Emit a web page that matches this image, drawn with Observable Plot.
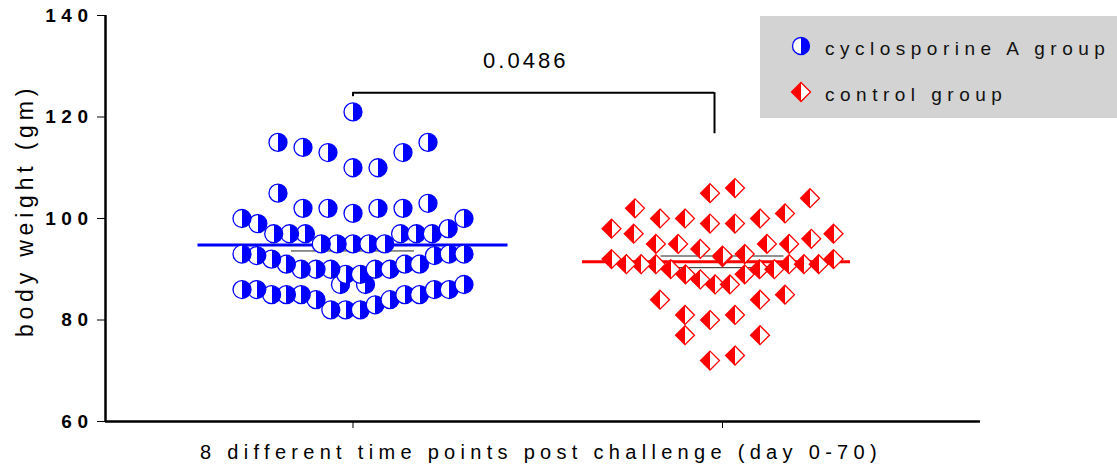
<!DOCTYPE html>
<html><head><meta charset="utf-8">
<script src="https://cdn.jsdelivr.net/npm/d3@7"></script>
<script src="https://cdn.jsdelivr.net/npm/@observablehq/plot@0.6"></script>
<style>
html,body{margin:0;padding:0;background:#fff;}
#wrap{position:relative;width:1117px;height:474px;overflow:hidden;font-family:"Liberation Sans",Arial,sans-serif;}
#chart svg{display:block;}
#legend{position:absolute;left:760px;top:16px;}
</style></head>
<body>
<svg width="0" height="0" style="position:absolute">
 <defs>
  <linearGradient id="halfBlue" x1="0" x2="1" y1="0" y2="0">
   <stop offset="0.5" stop-color="#ffffff"/><stop offset="0.5" stop-color="#0000ff"/>
  </linearGradient>
  <linearGradient id="halfRed" x1="0" x2="1" y1="0" y2="0">
   <stop offset="0.5" stop-color="#ff0000"/><stop offset="0.5" stop-color="#ffffff"/>
  </linearGradient>
 </defs>
</svg>
<div id="wrap"><div id="chart"></div></div>
<script>
// ---------- data ----------
const groups = ["cyclosporine A group", "control group"];
const groupColors = ["#0000ff", "#ff0000"];
const cyclosporineA = [
  121,
  115, 114, 113, 110, 110, 113, 115,
  103, 102, 102, 101, 102, 102, 105,
  100, 99, 97, 97, 97, 97, 97, 97, 98, 100,
  95, 95, 95, 95, 95,
  93, 93, 92.7, 92.7, 92, 93,
  91, 91, 90, 90, 89, 89, 90, 90, 90, 91,
  87, 87,
  86, 86, 85, 85, 85, 84, 82, 82, 82, 83, 84, 85, 85, 86, 86, 87
];
const control = [
  106, 105, 104, 102, 101, 100, 100, 99, 99, 100, 98, 97, 97, 95, 95, 94, 95, 95, 96,
  92, 91, 91, 91, 90, 89, 88, 87, 87, 89, 90, 90, 91, 91, 91, 92,
  92.4, 92.7, 93,
  85, 84, 84, 81, 80, 81, 77, 77, 72, 73
];
const yTicks = [60, 80, 100, 120, 140];
const xLabel = "8 different time points post challenge (day 0-70)";
const yLabel = "body weight (gm)";
const pValue = "0.0486";

// ---------- layout constants ----------
const W = 1117, H = 474;
const mL = 105, mR = 137, mT = 15, mB = 53;
const X0 = 0.3302, X1 = 2.6982;                 // x domain (group index units)
const UNIT = (W - mL - mR) / (X1 - X0);         // px per group unit
const SPAN = 5.5, MAXROW = 16, MAXW = 222, MAXSTEP = 25;

// Prism-like scatter layout: rows of similar values spread centre-out
function swarm(values, gi) {
  const pts = values.map(v => ({group: groups[gi], gi, value: v}));
  const sorted = pts.slice().sort((a, b) => a.value - b.value);
  const rows = []; let cur = null;
  for (const p of sorted) {
    if (!cur || p.value - cur[0].value > SPAN) rows.push(cur = []);
    cur.push(p);
  }
  const out = [];
  for (const r of rows) for (let k = 0; k < r.length; k += MAXROW) out.push(r.slice(k, k + MAXROW));
  for (const row of out) {
    const n = row.length;
    const step = n > 1 ? Math.min(MAXSTEP, MAXW / (n - 1)) : 0;
    const s = Math.floor((n - 1) / 2);
    const order = [s];
    for (let j = 1; order.length < n; j++) {
      if (s + j < n) order.push(s + j);
      if (s - j >= 0 && order.length < n) order.push(s - j);
    }
    row.forEach((p, k) => { p.x = (gi + 1) + ((order[k] - (n - 1) / 2) * step) / UNIT; });
  }
  return out.flat();
}
const ptsA = swarm(cyclosporineA, 0);
const ptsB = swarm(control, 1);

function stats(values, gi) {
  const n = values.length, m = d3.mean(values), sd = d3.deviation(values);
  return {x: gi + 1, mean: m, lo: m - sd / Math.sqrt(n), hi: m + sd / Math.sqrt(n)};
}
const statA = [stats(cyclosporineA, 0)], statB = [stats(control, 1)];
const meanHW = [155 / UNIT, 134 / UNIT];
const semHW = 61.5 / UNIT;

const bracket = [{from: 1, to: 2, y: 124.8, fromEnd: 124.0, toEnd: 116.7, label: pValue}];

const diamond = {
  draw(ctx, size) {
    const h = Math.sqrt(size / Math.PI) * 1.05;
    ctx.moveTo(0, -h); ctx.lineTo(h, 0); ctx.lineTo(0, h); ctx.lineTo(-h, 0); ctx.closePath();
  }
};

const font = '"Liberation Sans", Arial, sans-serif';
const plot = Plot.plot({
  width: W, height: H,
  marginLeft: mL, marginRight: mR, marginTop: mT, marginBottom: mB,
  style: {fontFamily: font, background: "white", color: "black", overflow: "visible"},
  x: {domain: [X0, X1], ticks: [1, 2], tickFormat: () => "", tickSize: 7, label: null},
  y: {domain: [60, 140], ticks: yTicks, tickSize: 8, tickPadding: 4, label: null, tickFormat: d => String(d)},
  marks: [
    // mean and SEM
    Plot.ruleY(statA, {y: "mean", x1: d => d.x - meanHW[0], x2: d => d.x + meanHW[0], stroke: groupColors[0], strokeWidth: 3}),
    Plot.ruleY(statB, {y: "mean", x1: d => d.x - meanHW[1], x2: d => d.x + meanHW[1], dx: -6, stroke: groupColors[1], strokeWidth: 3}),
    Plot.ruleY(statA.concat(statB), {y: "lo", x1: d => d.x - semHW, x2: d => d.x + semHW, stroke: "#222", strokeWidth: 1}),
    Plot.ruleY(statA.concat(statB), {y: "hi", x1: d => d.x - semHW, x2: d => d.x + semHW, stroke: "#222", strokeWidth: 1}),
    Plot.ruleX(statA.concat(statB), {x: "x", y1: "lo", y2: "hi", stroke: "#222", strokeWidth: 1}),
    // points
    Plot.dot(ptsA, {x: "x", y: "value", r: 9, symbol: "circle", fill: "url(#halfBlue)", stroke: groupColors[0], strokeWidth: 1.3}),
    Plot.dot(ptsB, {x: "x", y: "value", r: 9, symbol: diamond, fill: "url(#halfRed)", stroke: groupColors[1], strokeWidth: 1.3}),
    // axes lines
    Plot.ruleY([60], {stroke: "black", strokeWidth: 2.5}),
    Plot.ruleX([X0], {stroke: "black", strokeWidth: 2.5}),
    // bracket + p value
    Plot.ruleY(bracket, {y: "y", x1: "from", x2: "to", insetRight: 8, stroke: "black", strokeWidth: 2}),
    Plot.ruleX(bracket, {x: "from", y1: "y", y2: "fromEnd", stroke: "black", strokeWidth: 2}),
    Plot.ruleX(bracket, {x: "to", y1: "y", y2: "toEnd", dx: -8, stroke: "black", strokeWidth: 2}),
    Plot.text(bracket, {x: d => (d.from + d.to) / 2, y: "y", text: "label", dy: -32, dx: -12, fontSize: 22, fill: "black"}),
    // axis labels
    Plot.text([xLabel], {text: d => d, frameAnchor: "bottom", dy: 37, dx: -2, fontSize: 20, fill: "black"}),
    Plot.text([yLabel], {text: d => d, frameAnchor: "left", textAnchor: "middle", dx: -80, dy: -8, rotate: -90, fontSize: 23, fill: "black"})
  ]
});
document.getElementById("chart").appendChild(plot);

// text styling (letter-spaced, as in the original export)
const sel = d3.select(plot);
sel.selectAll('g[aria-label^="y-axis"] text').style("font-weight", "bold").style("font-size", "19px").style("letter-spacing", "5.5px");
sel.selectAll("text").each(function() {
  const t = this.textContent;
  if (t === xLabel) this.style.letterSpacing = "5.3px";
  else if (t === yLabel) this.style.letterSpacing = "4.8px";
  else if (t === pValue) this.style.letterSpacing = "3px";
});

// legend
const leg = d3.select("#wrap").append("svg").attr("id", "legend").attr("width", 357).attr("height", 102);
leg.append("rect").attr("width", 357).attr("height", 102).attr("fill", "#d3d3d3");
groups.forEach((g, i) => {
  const cy = 30 + i * 46;
  if (i === 0) {
    leg.append("circle").attr("cx", 41).attr("cy", cy).attr("r", 8.5)
      .attr("fill", "url(#halfBlue)").attr("stroke", groupColors[0]).attr("stroke-width", 1.3);
  } else {
    const h = 9.5;
    leg.append("path").attr("d", `M41,${cy - h}L${41 + h},${cy}L41,${cy + h}L${41 - h},${cy}Z`)
      .attr("fill", "url(#halfRed)").attr("stroke", groupColors[1]).attr("stroke-width", 1.3);
  }
  leg.append("text").attr("x", 65).attr("y", cy + 8.5).text(g)
    .style("font-family", font).style("font-size", "19px").style("letter-spacing", "5.5px").attr("fill", "#111");
});
</script>
</body></html>
